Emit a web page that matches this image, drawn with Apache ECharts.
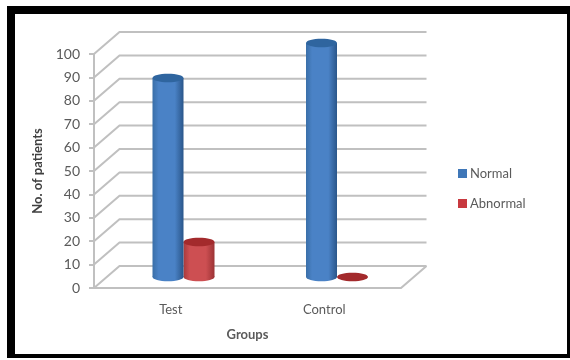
<!DOCTYPE html>
<html>
<head>
<meta charset="utf-8">
<style>html,body{margin:0;padding:0;background:#fff}#chart{width:570px;height:360px}</style>
<script src="https://cdn.jsdelivr.net/npm/echarts@6/dist/echarts.min.js"></script>
</head>
<body>
<div id="chart"></div>
<script>
// Patients per group
const categories = ['Test', 'Control'];
const normalValues = [85, 100];
const abnormalValues = [15, 0];
const yTicks = [0, 10, 20, 30, 40, 50, 60, 70, 80, 90, 100];

// Pseudo-3D box: how far the back wall sits behind the front plane
const depthX = 25.5;
const depthY = 22;
const barWidth = 31;
const capHeight = 8.5;

const gridColor = '#c0c0c0';
const textColor = '#5a5a5a';
const fontFamily = 'Lato, "Open Sans", sans-serif';

function hGradient(edgeL, mid, edgeR) {
  return new echarts.graphic.LinearGradient(0, 0, 1, 0, [
    { offset: 0, color: edgeL },
    { offset: 0.2, color: mid },
    { offset: 0.72, color: mid },
    { offset: 1, color: edgeR }
  ]);
}

// Floor edges, side diagonals and back wall lines, one per tick value
function renderWall(params, api) {
  const cs = params.coordSys;
  const y = api.coord([0, api.value(0)])[1];
  const left = cs.x, right = cs.x + cs.width;
  const style = { stroke: gridColor, lineWidth: 2, fill: null };
  const children = [{
    type: 'polyline',
    shape: { points: [[left, y], [left + depthX, y - depthY], [right + depthX, y - depthY]] },
    style
  }];
  if (api.value(0) === 0) {
    children.push({
      type: 'polyline',
      shape: { points: [[left, y], [right, y], [right + depthX, y - depthY]] },
      style
    });
  }
  return { type: 'group', children };
}

// Cylinder standing mid-way between the front plane and the back wall
function cylinderRenderer(offsetDir, colors) {
  return function (params, api) {
    const top = api.coord([api.value(0), api.value(1)]);
    const base = api.coord([api.value(0), 0]);
    const cx = top[0] + depthX / 2 + offsetDir * barWidth / 2;
    const yTop = top[1] - depthY / 2;
    const yBase = base[1] - depthY / 2;
    const rx = barWidth / 2;
    const ry = capHeight / 2;
    const fill = hGradient(colors.edgeL, colors.mid, colors.edgeR);
    const children = [];
    if (yBase - yTop > 0.5) {
      children.push(
        { type: 'ellipse', shape: { cx, cy: yBase, rx, ry }, style: { fill } },
        { type: 'rect', shape: { x: cx - rx, y: yTop, width: barWidth, height: yBase - yTop }, style: { fill } }
      );
    }
    children.push({ type: 'ellipse', shape: { cx, cy: yTop, rx, ry }, style: { fill: colors.cap } });
    return { type: 'group', children };
  };
}

const chart = echarts.init(document.getElementById('chart'), null, { renderer: 'canvas' });
chart.setOption({
  animation: false,
  backgroundColor: '#ffffff',
  textStyle: { fontFamily },
  graphic: [
    { type: 'rect', z: -10, silent: true, shape: { x: 7, y: 6, width: 563, height: 352 }, style: { fill: '#000' } },
    { type: 'rect', z: -9, silent: true, shape: { x: 15, y: 14, width: 552, height: 340 }, style: { fill: '#fff' } }
  ],
  grid: { left: 94, right: 169, top: 54, bottom: 72 },
  legend: {
    orient: 'vertical',
    left: 453,
    top: 160,
    itemWidth: 9,
    itemHeight: 9,
    itemGap: 13,
    icon: 'rect',
    data: ['Normal', 'Abnormal'],
    textStyle: { color: textColor, fontSize: 13, fontFamily, padding: [0, 0, 0, -2], lineHeight: 17 }
  },
  xAxis: {
    type: 'category',
    data: categories,
    name: 'Groups',
    nameLocation: 'middle',
    nameGap: 40,
    nameTextStyle: { color: textColor, fontSize: 13, fontWeight: 'bold', fontFamily },
    axisLine: { show: false },
    axisTick: { show: false },
    axisLabel: { color: textColor, fontSize: 13, margin: 15, fontFamily }
  },
  yAxis: {
    type: 'value',
    min: 0,
    max: 100,
    interval: 10,
    name: 'No. of patients',
    nameLocation: 'middle',
    nameGap: 41,
    nameTextStyle: { color: '#404040', fontSize: 13, fontWeight: 'bold', fontFamily },
    splitLine: { show: false },
    axisLine: { show: true, lineStyle: { color: gridColor, width: 2 } },
    axisTick: { show: true, length: 5, lineStyle: { color: gridColor, width: 2 } },
    axisLabel: { color: textColor, fontSize: 14, margin: 14, fontFamily }
  },
  series: [
    {
      type: 'custom',
      name: 'wall',
      silent: true,
      z: 1,
      data: yTicks.map(v => [v]),
      encode: { y: 0 },
      renderItem: renderWall
    },
    {
      type: 'custom',
      name: 'Normal',
      z: 3,
      itemStyle: { color: '#3f77b8' },
      data: normalValues.map((v, i) => [i, v]),
      encode: { x: 0, y: 1 },
      renderItem: cylinderRenderer(-1, { edgeL: '#3a6fa8', mid: '#4a82c6', edgeR: '#2a568a', cap: '#2f659f' })
    },
    {
      type: 'custom',
      name: 'Abnormal',
      z: 2,
      itemStyle: { color: '#c8393f' },
      data: abnormalValues.map((v, i) => [i, v]),
      encode: { x: 0, y: 1 },
      renderItem: cylinderRenderer(1, { edgeL: '#a83a3c', mid: '#cd4f52', edgeR: '#9c3335', cap: '#a32a2c' })
    }
  ]
});
</script>
</body>
</html>
